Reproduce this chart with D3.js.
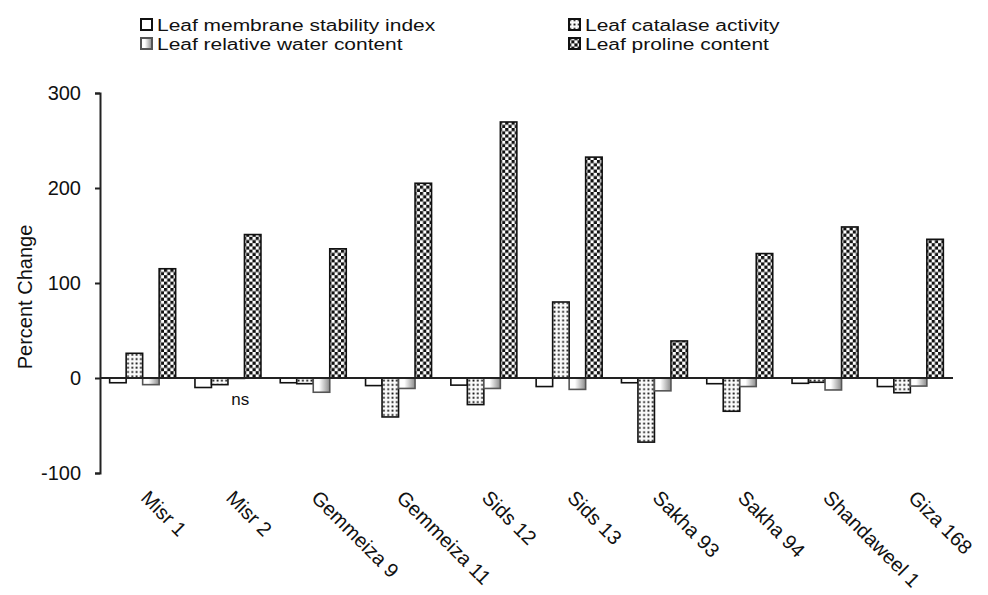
<!DOCTYPE html>
<html>
<head>
<meta charset="utf-8">
<script src="https://cdn.jsdelivr.net/npm/d3@7/dist/d3.min.js"></script>
<style>
  html, body { margin: 0; padding: 0; background: #fff; }
  svg { display: block; font-family: "Liberation Sans", Arial, sans-serif; }
</style>
</head>
<body>
<svg id="chart" width="988" height="595"></svg>
<script>
// Wheat cultivars and the percent change of four leaf traits under stress
const categories = ["Misr 1", "Misr 2", "Gemmeiza 9", "Gemmeiza 11", "Sids 12",
                    "Sids 13", "Sakha 93", "Sakha 94", "Shandaweel 1", "Giza 168"];
const seriesNames = ["Leaf membrane stability index", "Leaf catalase activity",
                     "Leaf relative water content", "Leaf proline content"];
const membrane = [-5, -10, -5, -8, -7.5, -9, -5, -6, -5.6, -9];
const catalase = [26, -7, -6, -41, -28, 80, -67.5, -35, -4.5, -15.5];
const waterContent = [-7, -0.5, -15, -11, -11, -12, -13.5, -9, -12.6, -8.5];
const proline = [115, 151, 136, 205, 269.5, 232.5, 39, 131, 159, 146];
const yTicks = [-100, 0, 100, 200, 300];

const seriesValues = [membrane, catalase, waterContent, proline];
const fills = ["#fff", "url(#dots)", "url(#shade)", "url(#checker)"];
const strokes = ["#111", "#111", "#555", "#111"];

const svg = d3.select("#chart");
const defs = svg.append("defs");

// dotted fill for catalase
const dots = defs.append("pattern").attr("id", "dots")
  .attr("patternUnits", "userSpaceOnUse").attr("width", 4.3).attr("height", 4.3);
dots.append("rect").attr("width", 4.3).attr("height", 4.3).attr("fill", "#fafafa");
dots.append("rect").attr("x", 1.3).attr("y", 1.3).attr("width", 1.8).attr("height", 1.8).attr("fill", "#111");

// checkerboard fill for proline
const cell = 3.2;
const checker = defs.append("pattern").attr("id", "checker")
  .attr("patternUnits", "userSpaceOnUse").attr("width", cell * 2).attr("height", cell * 2);
checker.append("rect").attr("width", cell * 2).attr("height", cell * 2).attr("fill", "#fff");
checker.append("rect").attr("width", cell).attr("height", cell).attr("fill", "#111");
checker.append("rect").attr("x", cell).attr("y", cell).attr("width", cell).attr("height", cell).attr("fill", "#111");

// horizontal shading for relative water content
const shade = defs.append("linearGradient").attr("id", "shade")
  .attr("x1", 0).attr("x2", 1).attr("y1", 0).attr("y2", 0);
shade.append("stop").attr("offset", 0).attr("stop-color", "#fff");
shade.append("stop").attr("offset", 0.35).attr("stop-color", "#fff");
shade.append("stop").attr("offset", 1).attr("stop-color", "#8a8a8a");

const plotLeft = 100, plotRight = 953;
const y = d3.scaleLinear().domain([-100, 300]).range([473, 93]);
const x0 = d3.scaleBand().domain(categories).range([plotLeft, plotRight]).paddingInner(0).paddingOuter(0);
const groupW = x0.bandwidth();
const barsW = 66;
const x1 = d3.scaleBand().domain(d3.range(4))
  .range([(groupW - barsW) / 2, (groupW + barsW) / 2]).paddingInner(0);

// bars
const groups = svg.append("g").selectAll("g").data(categories).join("g")
  .attr("transform", d => `translate(${x0(d)},0)`);
groups.each(function (cat, ci) {
  d3.select(this).selectAll("rect").data(seriesValues.map((s, si) => ({ si, v: s[ci] })))
    .join("rect")
    .attr("x", d => x1(d.si))
    .attr("width", x1.bandwidth())
    .attr("y", d => y(Math.max(0, d.v)))
    .attr("height", d => Math.abs(y(d.v) - y(0)))
    .attr("fill", d => fills[d.si])
    .attr("stroke", d => strokes[d.si])
    .attr("stroke-width", 1.6);
});

// zero line
svg.append("line")
  .attr("x1", plotLeft).attr("x2", plotRight)
  .attr("y1", y(0)).attr("y2", y(0))
  .attr("stroke", "#222").attr("stroke-width", 2);

// y axis
const yAxis = svg.append("g").attr("transform", `translate(${plotLeft},0)`)
  .call(d3.axisLeft(y).tickValues(yTicks).tickSize(5).tickPadding(14)
    .tickFormat(d => String(d)));
yAxis.select(".domain").attr("stroke", "#222").attr("stroke-width", 2);
yAxis.selectAll(".tick line").attr("stroke", "#222").attr("stroke-width", 2);
yAxis.selectAll(".tick text").attr("font-size", 20).attr("fill", "#111")
  .attr("font-family", "Liberation Sans, Arial, sans-serif");

svg.append("text")
  .attr("transform", "translate(32,297) rotate(-90)")
  .attr("text-anchor", "middle").attr("font-size", 20).attr("fill", "#111")
  .text("Percent Change");

// category labels
svg.append("g").selectAll("text").data(categories).join("text")
  .attr("transform", d => `translate(${x0(d) + groupW / 2 - 3},499) rotate(45)`)
  .attr("font-size", 20).attr("fill", "#111")
  .text(d => d);

// significance note for Misr 2 water content
svg.append("text")
  .attr("x", x0("Misr 2") + x1(2) + x1.bandwidth() / 2 + 4)
  .attr("y", y(0) + 27)
  .attr("text-anchor", "middle").attr("font-size", 17).attr("fill", "#111")
  .text("ns");

// legend
const legendPos = [[140, 18], [568, 18], [140, 37], [568, 37]];
const legend = svg.append("g").selectAll("g").data(seriesNames).join("g")
  .attr("transform", (d, i) => `translate(${legendPos[i][0]},${legendPos[i][1]})`);
legend.append("rect")
  .attr("x", 1).attr("y", 1).attr("width", 11).attr("height", 11)
  .attr("fill", (d, i) => fills[i])
  .attr("stroke", (d, i) => strokes[i]).attr("stroke-width", 2);
legend.append("text")
  .attr("transform", "translate(17,12.5) scale(1.31,1)")
  .attr("font-size", 16).attr("fill", "#111")
  .text(d => d);
</script>
</body>
</html>
